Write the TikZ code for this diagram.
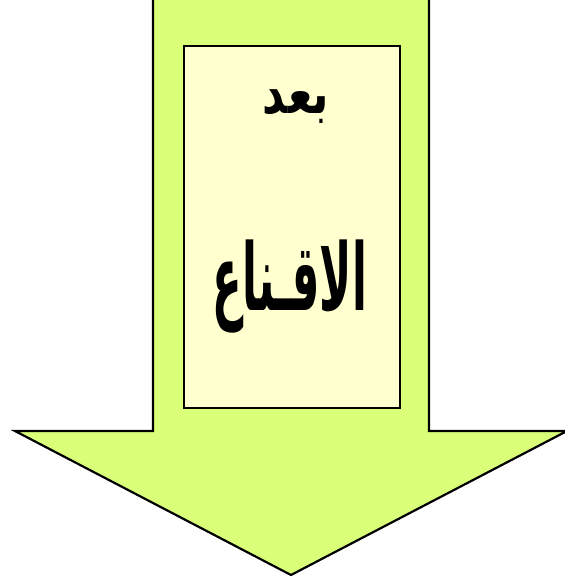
\documentclass[tikz,border=0pt]{standalone}
\usepackage{fontspec}
\TeXXeTstate=1
\newfontfamily\arabicfont[Script=Arabic]{DejaVu Sans}
\definecolor{arrowfill}{RGB}{218,255,120}
\definecolor{boxfill}{RGB}{255,255,208}
\begin{document}
\begin{tikzpicture}[x=1pt,y=-1pt,
  arrowshape/.style={draw=black,line width=2.2pt,fill=arrowfill,line join=miter},
  innerbox/.style={draw=black,line width=2.2pt,fill=boxfill},
  label/.style={text=black,inner sep=0pt,transform shape}]
\useasboundingbox (0,0) rectangle (565,582);
\begin{scope}
\clip (0,0) rectangle (565,582);
\draw[arrowshape] (153,-5) -- (153,431) -- (15,431) -- (291,575) -- (567,431) -- (429,431) -- (429,-5);
\end{scope}
\node[innerbox,minimum width=216pt,minimum height=362pt,anchor=north west] (box) at (183,45) {};
\node[label,xscale=0.95,yscale=1.25,font=\arabicfont\bfseries\fontsize{46}{50}\selectfont] (t1) at (296,107) {\beginR بعد\endR};
\node[label,xscale=0.7,yscale=1.5,font=\arabicfont\bfseries\fontsize{62}{66}\selectfont] (t2) at (290,287) {\beginR الاقـناع\endR};
\end{tikzpicture}
\end{document}
